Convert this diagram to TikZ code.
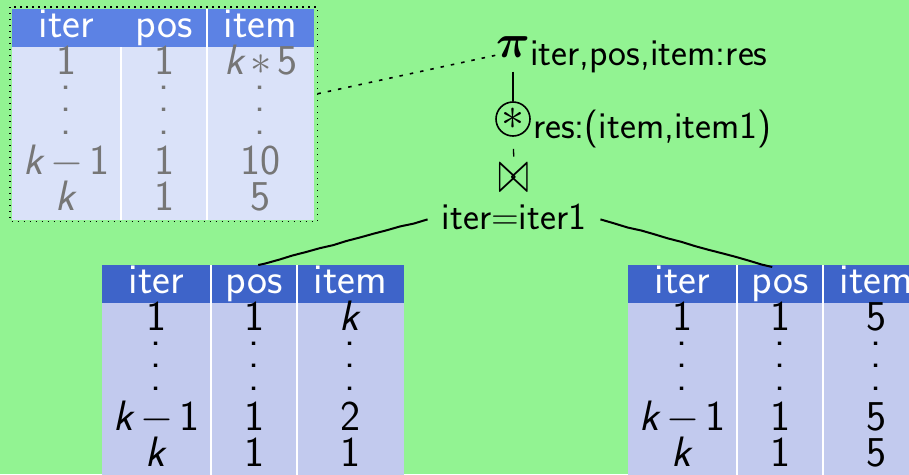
\RequirePackage{fix-cm}
\documentclass[tikz,border=0pt]{standalone}
\usepackage{amsmath,bm}
\usetikzlibrary{calc,decorations.pathmorphing}

\definecolor{slidebg}{RGB}{146,243,146}
\definecolor{hdDeep}{RGB}{62,100,201}
\definecolor{bdDeep}{RGB}{194,202,238}
\definecolor{hdPale}{RGB}{92,130,228}
\definecolor{bdPale}{RGB}{218,226,249}
\definecolor{txPale}{RGB}{118,118,118}

\newcommand\tabfont{\fontsize{42.5}{46}\selectfont\sffamily}
\newcommand\opfont{\fontsize{38}{42}\selectfont\sffamily}
% slanted sans variable and binary operators inside the cells
\newcommand\kvar{\textsl{k}}
\newcommand\kminus{\kvar\kern6pt$-$\kern6pt1}
\newcommand\ktimes{\kvar\kern5pt$\ast$\kern5pt5}

\tikzset{
  x=1pt, y=-1pt,
  headcell/.style={inner sep=0pt, minimum height=38pt, fill=hdDeep},
  bodycell/.style={inner sep=0pt, minimum height=173pt, fill=bdDeep},
  headtext/.style={inner sep=0pt, font=\tabfont, text=white},
  celltext/.style={inner sep=0pt, font=\tabfont, text=black},
  divider/.style={draw=white, line width=2pt},
  firsthead/.style={},
  % paler variant of a relation table
  palerel/.style={
    headcell/.append style={fill=hdPale},
    bodycell/.append style={fill=bdPale},
    celltext/.append style={text=txPale},
    firsthead/.style={draw=none}},
  deeprel/.style={},
  tabframe/.style={draw=black, line width=1.4pt, dash pattern=on 1.4pt off 4.6pt},
  linkdots/.style={draw=black, line width=1.6pt, dash pattern=on 3.5pt off 7pt},
  opedge/.style={draw=black, line width=1.3pt},
  wob/.style={draw=black, line width=2pt,
    decorate, decoration={random steps, segment length=14pt, amplitude=0.7pt}},
  oplabel/.style={inner sep=0pt, font=\opfont, text=black},
}

% #1 name prefix, #2 x, #3 y (top left), #4 variant, #5-#7 item column values
\newcommand\reltab[7]{%
  \begin{scope}[#4]
    \foreach \c/\xa/\xb/\lab in {1/0/109/iter,2/109/195/pos,3/195/302/item}{%
      \node[headcell, minimum width={(\xb-\xa)*1pt}, anchor=north west] (#1h\c) at ({#2+\xa},{#3}) {};
      \node[bodycell, minimum width={(\xb-\xa)*1pt}, anchor=north west] (#1b\c) at ({#2+\xa},{#3+38}) {};
      \node[headtext, anchor=base] (#1t\c) at ({#2+(\xa+\xb)/2},{#3+28}) {\lab};
      \foreach \r/\dy in {1/79,2/101,3/123.5}{%
        \node[celltext] (#1d\c\r) at ({#2+(\xa+\xb)/2},{#3+\dy}) {.};
      }
    }
    \draw[divider, firsthead] (#1h2.north west) -- (#1h2.south west);
    \draw[divider] (#1b2.north west) -- (#1b2.south west);
    \draw[divider] (#1h3.north west) -- (#1b3.south west);
    % first, last but one and last rows
    \node[celltext, anchor=base] (#1v11) at ({#2+54.5},{#3+65}) {1};
    \node[celltext, anchor=base] (#1v12) at ({#2+54.5},{#3+165}) {\kminus};
    \node[celltext, anchor=base] (#1v13) at ({#2+54.5},{#3+201}) {\kvar};
    \node[celltext, anchor=base] (#1v21) at ({#2+152},{#3+65}) {1};
    \node[celltext, anchor=base] (#1v22) at ({#2+152},{#3+165}) {1};
    \node[celltext, anchor=base] (#1v23) at ({#2+152},{#3+201}) {1};
    \node[celltext, anchor=base] (#1v31) at ({#2+248.5},{#3+65}) {#5};
    \node[celltext, anchor=base] (#1v32) at ({#2+248.5},{#3+165}) {#6};
    \node[celltext, anchor=base] (#1v33) at ({#2+248.5},{#3+201}) {#7};
  \end{scope}}

\begin{document}
\begin{tikzpicture}
  \useasboundingbox (0,0) rectangle (909,474);
  \fill[slidebg] (0,0) rectangle (909,474);
  \clip (0,0) rectangle (909,474);

  % result table
  \reltab{T}{12}{9}{palerel}{\ktimes}{10}{5}
  \draw[tabframe] ($(Th1.north west)+(-2,-2)$) rectangle ($(Tb3.south east)+(3,1)$);
  \coordinate (tlink) at ($(Tb3.north east)!0.27!(Tb3.south east)+(3,0)$);

  % input tables
  \reltab{L}{102}{265}{deeprel}{\kvar}{2}{1}
  \reltab{R}{628}{265}{deeprel}{5}{5}{5}

  % operator plan
  \node[inner sep=0pt, font=\fontsize{47}{50}\selectfont] (pi) at (513,47) {$\boldsymbol{\pi}$};
  \node[oplabel, anchor=base west] (pisub) at (530,65) {iter,pos,item:res};
  \node[draw=black, circle, line width=1.6pt, minimum size=34pt, inner sep=0pt,
        font=\fontsize{46}{50}\selectfont] (circ) at (513,119) {$\ast$};
  \node[oplabel, anchor=base west] (circsub) at (533,138) {res:(item,item1)};
  \node[inner sep=0pt, font=\fontsize{38}{44}\selectfont] (join) at (514,178)
        {\scalebox{1}[1.6]{$\bowtie$}};
  \node[oplabel, anchor=base, inner xsep=14pt] (cond) at (514,229) {iter=iter1};

  \draw[opedge, shorten <=14pt] (pi.south -| circ.north) -- (circ.north);
  \draw[opedge, shorten <=12pt, shorten >=7pt] (circ.south) -- (join.north);
  \draw[linkdots] (tlink) -- ($(pi.west)+(1,8)$);
  \draw[wob] ($(cond.west)+(0,3)$) -- ($(Lh2.north)+(4,0)$);
  \draw[wob] ($(cond.east)+(0,3)$) -- ($(Rh2.north)+(-8,2)$);
\end{tikzpicture}
\end{document}
